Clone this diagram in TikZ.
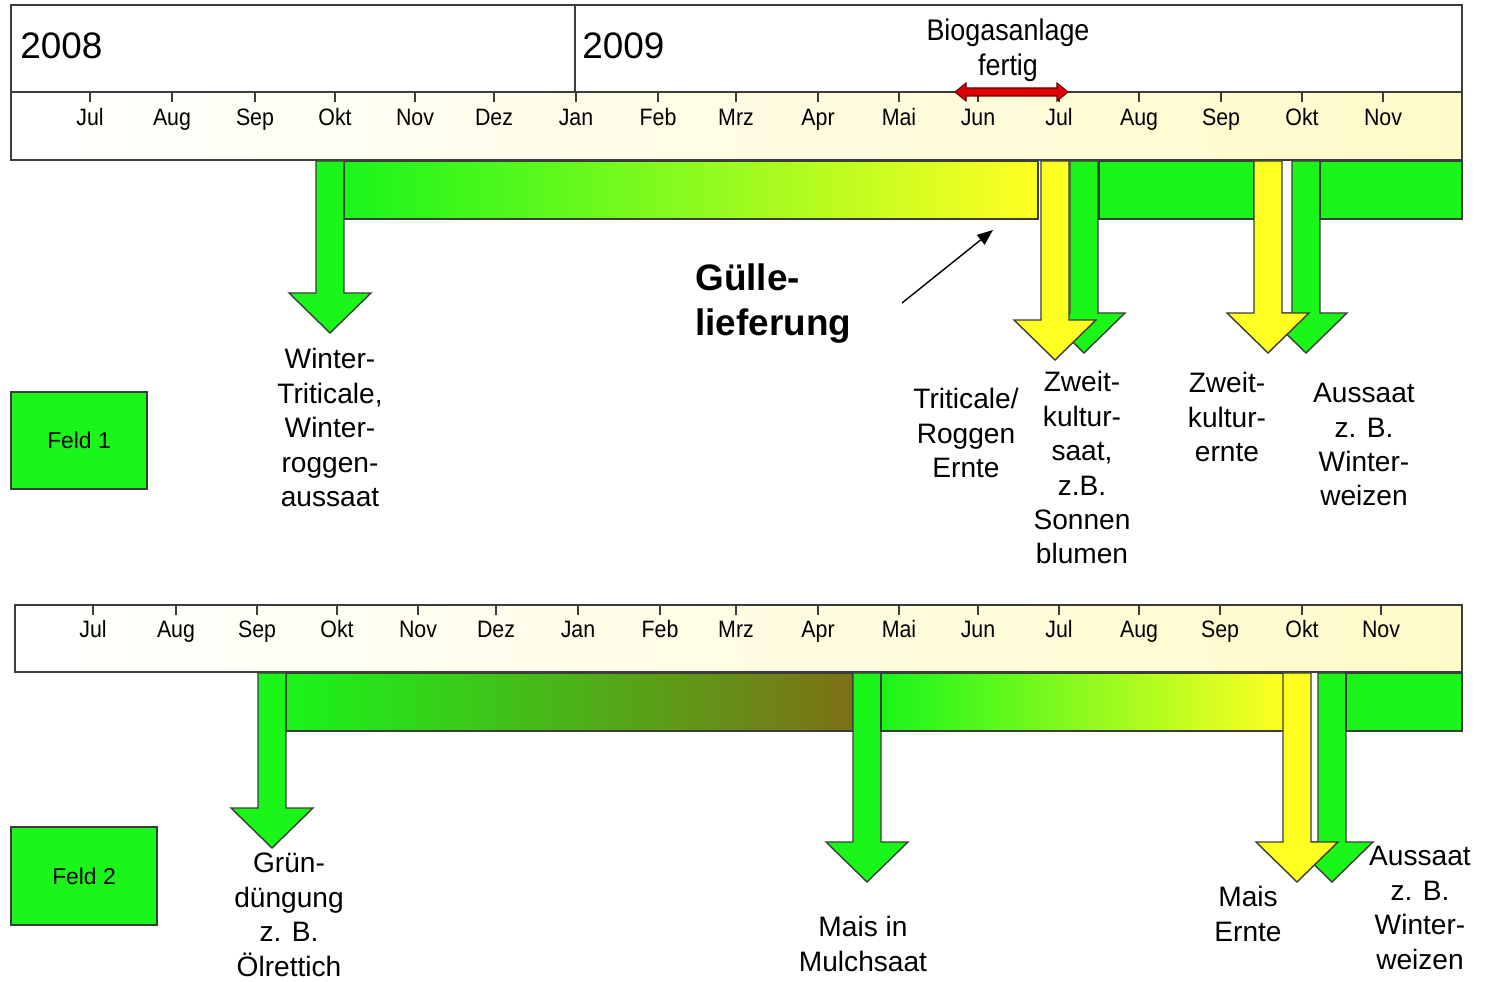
\documentclass[tikz,border=0pt]{standalone}
\usepackage{fontspec}
\setmainfont{Liberation Sans}
\newfontfamily\narrowfont[FakeStretch=0.9]{Liberation Sans}
\usetikzlibrary{arrows.meta}

\definecolor{grasgruen}{RGB}{26,245,26}
\definecolor{gelb}{RGB}{255,255,34}
\definecolor{oliv}{RGB}{125,112,22}
\definecolor{creme}{RGB}{255,250,200}
\definecolor{rand}{RGB}{60,60,60}

\tikzset{
  kante/.style={draw=rand, line width=0.8pt},
  monat/.style={font=\narrowfont\fontsize{13.5}{15}\selectfont, inner sep=0pt, anchor=base},
  beschr/.style={font=\fontsize{16}{19.6}\selectfont, align=center, anchor=north, inner sep=0pt},
  feldbox/.style={kante, fill=grasgruen, font=\fontsize{13}{15}\selectfont, minimum width=2.72cm, minimum height=1.94cm},
}

\newcommand{\pfeil}[5]{%
  \filldraw[kante, fill=#5] (#1-14,#2) -- (#1-14,#3) -- (#1-41,#3) -- (#1,#4)
    -- (#1+41,#3) -- (#1+14,#3) -- (#1+14,#2) -- cycle;}

\begin{document}
\begin{tikzpicture}[x=0.02cm, y=-0.02cm]
  \useasboundingbox (0,0) rectangle (1491,982);

  \shade[left color=white, right color=creme] (11,92) rectangle (1462,160);
  \draw[kante] (11,5) rectangle (1462,160);
  \draw[kante] (11,92) -- (1462,92);
  \draw[kante] (575,5) -- (575,92);
  \node[anchor=west, inner sep=0pt, font=\fontsize{21}{24}\selectfont] (j2008) at (20,46) {2008};
  \node[anchor=west, inner sep=0pt, font=\fontsize{21}{24}\selectfont] (j2009) at (582,46) {2009};

  \foreach \x/\m [count=\i] in {90/Jul,172/Aug,255/Sep,335/Okt,415/Nov,494/Dez,576/Jan,658/Feb,736/Mrz,818/Apr,899/Mai,978/Jun,1059/Jul,1139/Aug,1221/Sep,1302/Okt,1383/Nov}{
    \draw[rand, line width=0.6pt] (\x,92) -- (\x,102);
    \node[monat] (oa\i) at (\x,126) {\m};
  }

  \node[font=\narrowfont\fontsize{17}{19.9}\selectfont, align=center, inner sep=0pt] (biogas) at (1008,50) {Biogasanlage\\fertig};
  \filldraw[draw=black!60!red, fill=red!88!black, line width=0.6pt]
    (955,92) -- (966,83) -- (966,88) -- (1057,88) -- (1057,83) -- (1068,92)
    -- (1057,101) -- (1057,96) -- (966,96) -- (966,101) -- cycle;

  % Feld 1
  \shadedraw[kante, left color=grasgruen, right color=gelb] (344,161) rectangle (1038,219);
  \pfeil{330}{161}{293}{333}{grasgruen}
  \pfeil{1084}{161}{313}{353}{grasgruen}
  \pfeil{1055}{161}{320}{360}{gelb}
  \filldraw[kante, fill=grasgruen] (1099,161) rectangle (1254,219);
  \pfeil{1306}{161}{313}{353}{grasgruen}
  \pfeil{1268}{161}{313}{353}{gelb}
  \filldraw[kante, fill=grasgruen] (1320,161) rectangle (1462,219);

  \node[font=\bfseries\fontsize{21}{25.6}\selectfont, align=left, anchor=north west, inner sep=0pt] (guelle) at (695,263) {Gülle-\\lieferung};
  \coordinate (gA) at (902,303);
  \coordinate (gB) at (993,230);
  \draw[-{Triangle[length=9pt,width=7pt]}, line width=0.8pt] (gA) -- (gB);

  \node[feldbox] (feld1) at (79,440.5) {Feld 1};
  \node[beschr] (saat1) at (330,348) {Winter-\\Triticale,\\Winter-\\roggen-\\aussaat};
  \node[beschr] (ernte1) at (966,388) {Triticale/\\Roggen\\Ernte};
  \node[beschr] (zweit1) at (1082,371) {Zweit-\\kultur-\\saat,\\z.B.\\Sonnen\\blumen};
  \node[beschr] (zweit2) at (1227,372) {Zweit-\\kultur-\\ernte};
  \node[beschr] (saat2) at (1364,383) {Aussaat\\z. B.\\Winter-\\weizen};

  % Feld 2
  \shade[left color=white, right color=creme] (15,605) rectangle (1462,672);
  \draw[kante] (15,605) rectangle (1462,672);
  \foreach \x/\m [count=\i] in {93/Jul,176/Aug,257/Sep,337/Okt,418/Nov,496/Dez,578/Jan,660/Feb,736/Mrz,818/Apr,899/Mai,978/Jun,1059/Jul,1139/Aug,1220/Sep,1302/Okt,1381/Nov}{
    \draw[rand, line width=0.6pt] (\x,605) -- (\x,615);
    \node[monat] (ob\i) at (\x,638) {\m};
  }

  \shadedraw[kante, left color=grasgruen, right color=oliv] (286,673) rectangle (853,731);
  \pfeil{272}{673}{808}{848}{grasgruen}
  \pfeil{867}{673}{842}{882}{grasgruen}
  \shadedraw[kante, left color=grasgruen, right color=gelb] (881,673) rectangle (1284,731);
  \pfeil{1332}{673}{842}{882}{grasgruen}
  \pfeil{1297}{673}{842}{882}{gelb}
  \filldraw[kante, fill=grasgruen] (1346,673) rectangle (1462,731);

  \node[feldbox, minimum width=2.92cm, minimum height=1.96cm] (feld2) at (84,876) {Feld 2};
  \node[beschr] (gruen) at (289,853) {Grün-\\düngung\\z. B.\\Ölrettich};
  \node[beschr] (mais1) at (863,916) {Mais in\\Mulchsaat};
  \node[beschr] (mais2) at (1248,886) {Mais\\Ernte};
  \node[beschr] (saat3) at (1420,846) {Aussaat\\z. B.\\Winter-\\weizen};
\end{tikzpicture}
\end{document}
